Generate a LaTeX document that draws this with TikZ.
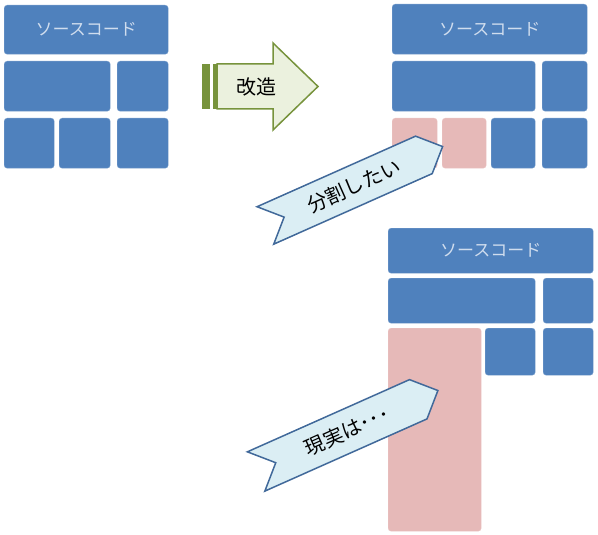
\documentclass[tikz,border=0pt]{standalone}
\usepackage{fontspec}
\setmainfont{Noto Sans CJK JP}
\usetikzlibrary{shapes.symbols}
\definecolor{blockblue}{HTML}{4F81BD}
\definecolor{blocktext}{HTML}{D0DDEE}
\definecolor{cutpink}{HTML}{E6B9B8}
\definecolor{arrowgreen}{HTML}{77933C}
\definecolor{arrowfill}{HTML}{EBF1DE}
\definecolor{calloutline}{HTML}{41699A}
\definecolor{calloutfill}{HTML}{DBEEF4}
\tikzset{
  block/.style={rectangle, rounded corners=3pt, fill=blockblue, draw=blockblue!75!white,
    line width=0.4pt, anchor=north west, inner sep=0pt, text=blocktext, font=\fontsize{17}{17}\selectfont},
  cut/.style={block, fill=cutpink, draw=cutpink!80!white},
  callout/.style={signal, signal to=east, signal from=west, signal pointer angle=90,
    fill=calloutfill, draw=calloutline, line width=1.5pt, inner sep=0pt,
    font=\fontsize{20}{20}\selectfont},
}
\newcommand{\Block}[6][block]{\node[#1, minimum width=#5-#3, minimum height=#6-#4] (#2) at (#3,#4) {};}
\begin{document}
\begin{tikzpicture}[x=1pt,y=-1pt]
            \useasboundingbox (0,0) rectangle (598,535);

            \node[block, minimum width=164pt, minimum height=49pt] (srcL) at (4,5) {ソースコード};
            \Block{bigL}{4}{61}{110}{111}
            \Block{smallL}{117}{61}{168}{111}
            \Block{aL}{4}{118}{54}{168}
            \Block{bL}{59}{118}{110}{168}
            \Block{cL}{117}{118}{168}{168}

            \node[block, minimum width=195pt, minimum height=50pt] (srcR) at (392,4) {ソースコード};
            \Block{bigR}{392}{61}{535}{111}
            \Block{smallR}{542}{61}{587}{111}
            \Block[cut]{aR}{392}{118}{437}{168}
            \Block[cut]{bR}{442}{118}{486}{168}
            \Block{cR}{491}{118}{535}{168}
            \Block{dR}{542}{118}{587}{168}

            \node[block, minimum width=205pt, minimum height=45pt] (srcB) at (388,228) {ソースコード};
            \Block{bigB}{388}{278}{535}{323}
            \Block{smallB}{543}{278}{593}{323}
            \Block[cut]{lumpB}{388}{328}{481}{531}
            \Block{cB}{485}{328}{535}{375}
            \Block{dB}{543}{328}{593}{375}

            \fill[arrowgreen] (202,64) rectangle (210,109);
            \fill[arrowgreen] (213,64) rectangle (216.5,109);
            \draw[arrowgreen, fill=arrowfill, line width=1.5pt, line join=miter]
              (217,64) -- (273,64) -- (273,43) -- (318,86.5) -- (273,130) -- (273,109) -- (217,109) -- cycle;
            \node[font=\fontsize{20}{20}\selectfont] (kaizo) at (256,86.5) {改造};

            \node[callout, rotate=24, minimum width=194pt, minimum height=41pt] (wish) at (354,186) {分割したい};
            \node[callout, rotate=24, minimum width=199pt, minimum height=43pt] (reality) at (347,431) {現実は･･･};
\end{tikzpicture}
\end{document}
